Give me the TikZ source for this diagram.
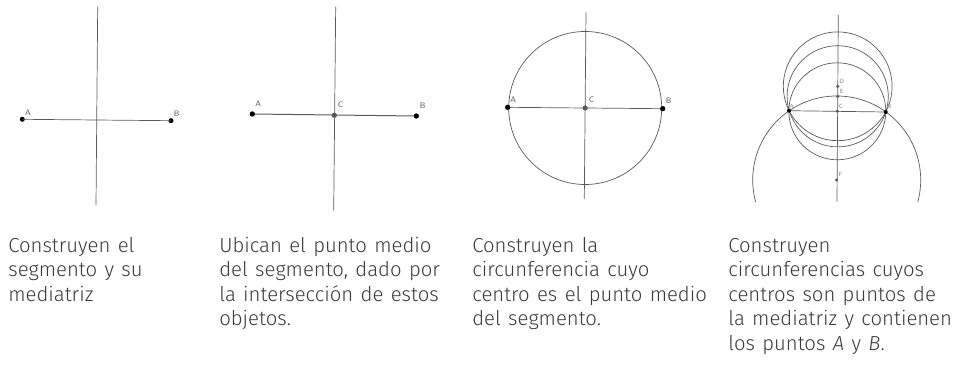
\documentclass[tikz,border=0pt]{standalone}
\usepackage{fontspec}
\setmainfont{Fira Sans}[UprightFont=* Light, ItalicFont=* Light Italic, WordSpace=1.3]
\usetikzlibrary{positioning}

\definecolor{trazo}{HTML}{5A5A5A}
\definecolor{letra}{HTML}{3A3A3A}
\definecolor{rotulo}{HTML}{555555}

\begin{document}
\begin{tikzpicture}[x=1pt, y=-1pt, line width=0.7pt,
  every node/.style = {inner sep=0pt},
  linea/.style = {draw=trazo},
  punto/.style = {circle, fill=black, minimum size=5pt},
  puntog/.style = {circle, fill=trazo, minimum size=3.5pt},
  etiq/.style = {font=\sffamily\fontsize{8}{8}\selectfont, text=rotulo},
  etiqc/.style = {font=\sffamily\fontsize{6}{6}\selectfont, text=gray},
  texto/.style = {align=left, anchor=base west, text=letra,
    font=\fontsize{20.3}{24.5}\selectfont}]
\useasboundingbox (0,0) rectangle (954,377);

% segmento y mediatriz
\coordinate (m1a) at (97.7,6.7);
\coordinate (m1b) at (96,205);
\node[punto] (A1) at (22.3,119.3) {};
\node[punto] (B1) at (171,120.7) {};
\draw[linea] (A1.center) -- (B1.center);
\draw[linea] (m1a) -- (m1b);
\node[etiq] at (28,112.7) {A};
\node[etiq] at (176.7,114) {B};

% punto medio
\coordinate (m2a) at (335.7,6.7);
\coordinate (m2b) at (333.7,210.7);
\node[punto] (A2) at (252.3,114) {};
\node[punto] (B2) at (416.3,116) {};
\node[punto, fill=trazo] (C2) at (334.3,115.3) {};
\draw[linea, line width=1pt] (A2.center) -- (B2.center);
\draw[linea] (m2a) -- (m2b);
\node[punto] at (A2) {};
\node[punto] at (B2) {};
\node[punto, fill=trazo] at (C2) {};
\node[etiq] at (258.3,104) {A};
\node[etiq] at (340.7,105) {C};
\node[etiq] at (422.7,106) {B};

% circunferencia de centro C
\coordinate (m3a) at (586,12.3);
\coordinate (m3b) at (584.3,199);
\node[punto] (A3) at (507.7,107.3) {};
\node[punto] (B3) at (662.7,108.7) {};
\node[punto, fill=trazo] (C3) at (585.2,108) {};
\draw[linea] (A3.center) -- (B3.center);
\draw[linea] (m3a) -- (m3b);
\draw[linea] (C3.center) circle [radius=76.5pt];
\node[punto] at (A3) {};
\node[punto] at (B3) {};
\node[punto, fill=trazo] at (C3) {};
\node[etiq] at (513.3,99.3) {A};
\node[etiq] at (591.7,99.3) {C};
\node[etiq] at (668.7,101) {B};

% circunferencias con centro en la mediatriz
\coordinate (m4a) at (838.3,15);
\coordinate (m4b) at (837,201.7);
\coordinate (A4) at (789,110.7);
\coordinate (B4) at (885.7,112);
\coordinate (C4) at (837.3,111.3);
\coordinate (D4) at (837.7,86.3);
\coordinate (E4) at (837.7,96.3);
\coordinate (F4) at (836.7,180);
\draw[linea] (A4) -- (B4);
\draw[linea] (m4a) -- (m4b);
\draw[linea] (D4) circle [radius=54.4pt];
\draw[linea] (E4) circle [radius=50.6pt];
\draw[linea] (C4) circle [radius=48.5pt];
\begin{scope}
  \clip (740,0) rectangle (954,201.7);
  \draw[linea] (F4) circle [radius=84pt];
\end{scope}
\foreach \p in {C4,D4,E4,F4} \node[puntog] at (\p) {};
\node[punto, minimum size=4pt] at (A4) {};
\node[punto, minimum size=4pt] at (B4) {};
\node[etiqc] at (791.7,106) {A};
\node[etiqc] at (889.3,106.7) {B};
\node[etiqc] at (841,106.7) {C};
\node[etiqc] at (841.7,81.3) {D};
\node[etiqc] at (841.7,91) {E};
\node[etiqc] at (840.7,174.7) {F};

% textos (anclados en la linea base de la ultima linea)
\node[texto] (t1) at (8,301.3) {Construyen el\\segmento y su\\mediatriz};
\node[texto] (t2) at (219,325.8) {Ubican el punto medio\\del segmento, dado por\\la intersección de estos\\objetos.};
\node[texto] (t3) at (472,325.8) {Construyen la\\circunferencia cuyo\\centro es el punto medio\\del segmento.};
\node[texto] (t4) at (728,350.3) {Construyen\\circunferencias cuyos\\centros son puntos de\\la mediatriz y contienen\\los puntos \textit{A} y \textit{B}.};
\end{tikzpicture}
\end{document}
